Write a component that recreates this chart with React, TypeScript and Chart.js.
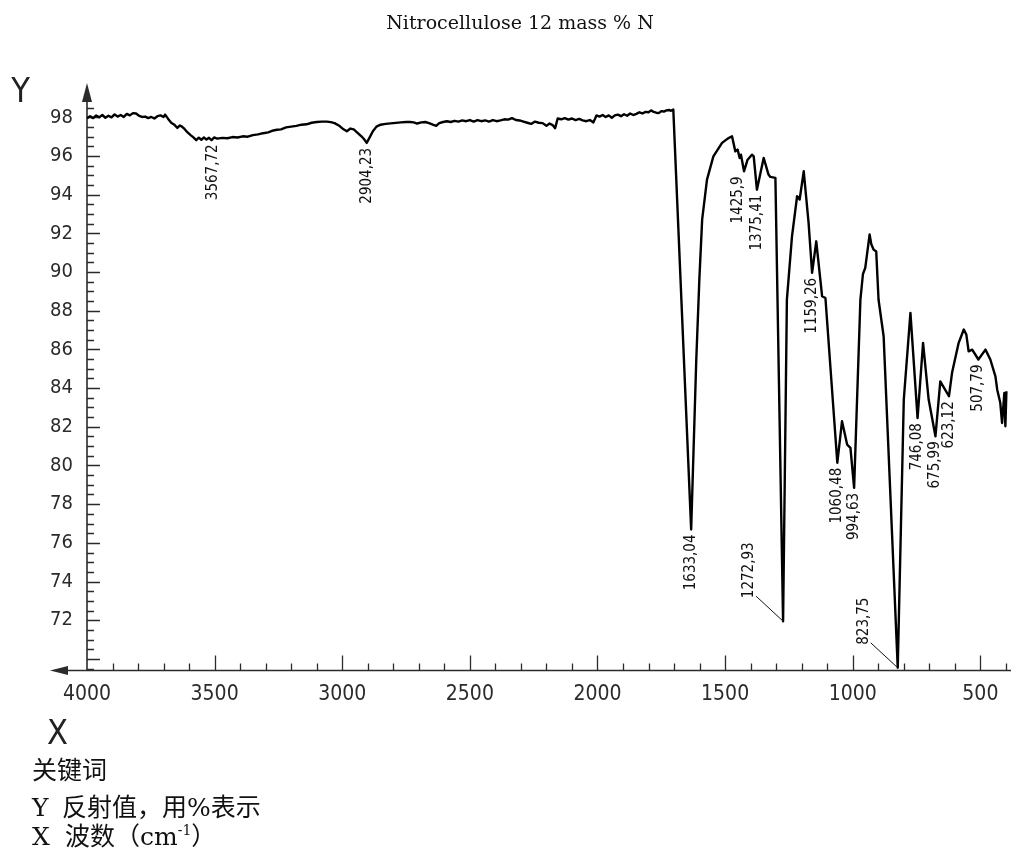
import React, { useEffect, useRef } from "react";
import { Chart, registerables } from "chart.js";

Chart.register(...registerables);

// ---------------- data ----------------
const TITLE = "Nitrocellulose 12 mass % N";
const AXIS_Y_NAME = "Y";
const AXIS_X_NAME = "X";
const KEY_TITLE = "关键词";
const KEY_Y = ["Y", "反射值，用%表示"];
const KEY_X = ["X", "波数（cm", "-1", "）"];

// wavenumber (cm-1), descending
const wavenumbers: number[] = [
  4000, 3988, 3976, 3964, 3952, 3940, 3928, 3916, 3904, 3892, 3880, 3868, 3856, 3844, 3832, 3820,
  3808, 3796, 3784, 3772, 3760, 3748, 3736, 3724, 3712, 3700, 3694, 3682, 3670, 3658, 3646, 3636,
  3628, 3618, 3606, 3594, 3582, 3572, 3562, 3552, 3542, 3532, 3522, 3512, 3502, 3490, 3470, 3450,
  3430, 3410, 3390, 3370, 3350, 3330, 3310, 3290, 3270, 3256, 3240, 3220, 3200, 3180, 3160, 3140,
  3120, 3100, 3080, 3060, 3045, 3030, 3010, 2995, 2982, 2968, 2955, 2940, 2925, 2915, 2904.23, 2892,
  2880, 2866, 2850, 2830, 2800, 2770, 2750, 2734, 2720, 2707, 2690, 2675, 2660, 2645, 2632, 2620,
  2605, 2590, 2575, 2560, 2545, 2530, 2515, 2500, 2485, 2470, 2455, 2440, 2425, 2410, 2395, 2380,
  2365, 2350, 2335, 2320, 2305, 2290, 2275, 2260, 2245, 2230, 2215, 2200, 2188, 2176, 2166, 2156,
  2142, 2128, 2114, 2100, 2086, 2072, 2058, 2044, 2030, 2016, 2004, 1992, 1980, 1968, 1956, 1944,
  1932, 1920, 1908, 1896, 1884, 1872, 1860, 1848, 1836, 1824, 1812, 1800, 1790, 1780, 1770, 1760,
  1750, 1740, 1730, 1720, 1712, 1703,
  1633.04, 1613, 1601, 1590, 1571, 1546, 1512, 1490, 1473, 1460, 1451, 1443, 1438, 1425.9, 1412, 1395,
  1388, 1375.41, 1349, 1330, 1323, 1303, 1272.93, 1258, 1238, 1218, 1208, 1192, 1173, 1159.26, 1143, 1120,
  1107, 1060.48, 1042, 1022, 1009, 994.63, 970, 960, 951, 934, 927, 918, 908, 899, 879, 823.75,
  800, 774, 746.08, 724.5, 702.6, 675.99, 657, 623.12, 611, 585, 565, 555, 546, 532, 507.79, 480,
  461, 441, 434, 422, 415, 406, 402, 398,
];

// reflectance (%)
const reflectance: number[] = [
  97.95, 98.06, 97.96, 98.1, 98.0, 98.12, 97.98, 98.08, 98.0, 98.15, 98.04, 98.12, 98.02, 98.18, 98.1, 98.22,
  98.2, 98.08, 98.02, 98.04, 97.96, 98.02, 97.94, 98.06, 98.1, 98.02, 98.14, 97.92, 97.72, 97.62, 97.45, 97.58,
  97.52, 97.4, 97.22, 97.08, 96.95, 96.82, 96.95, 96.84, 96.96, 96.85, 96.94, 96.82, 96.96, 96.9, 96.94, 96.92,
  96.98, 96.96, 97.02, 97.0, 97.08, 97.12, 97.18, 97.22, 97.32, 97.36, 97.38, 97.48, 97.52, 97.56, 97.62, 97.64,
  97.72, 97.76, 97.78, 97.78, 97.75, 97.7, 97.55, 97.38, 97.28, 97.42, 97.38, 97.2, 97.02, 96.88, 96.68, 96.98,
  97.28, 97.52, 97.62, 97.66, 97.7, 97.74, 97.76, 97.76, 97.74, 97.68, 97.74, 97.76, 97.7, 97.62, 97.56, 97.7,
  97.76, 97.8, 97.76, 97.82, 97.78, 97.84, 97.8, 97.86, 97.78, 97.86, 97.8, 97.84, 97.78, 97.86, 97.8, 97.84,
  97.9, 97.88, 97.96, 97.86, 97.84, 97.78, 97.72, 97.66, 97.78, 97.72, 97.7, 97.56, 97.68, 97.6, 97.44, 97.94,
  97.9, 97.96, 97.88, 97.94, 97.86, 97.92, 97.84, 97.8, 97.86, 97.74, 98.1, 98.04, 98.12, 98.02, 98.1, 97.98,
  98.1, 98.14, 98.06, 98.16, 98.08, 98.2, 98.12, 98.18, 98.26, 98.2, 98.28, 98.26, 98.36, 98.28, 98.24, 98.22,
  98.32, 98.3, 98.36, 98.38, 98.34, 98.4,
  76.69, 85.48, 89.61, 92.71, 94.78, 95.98, 96.68, 96.9, 97.02, 96.24, 96.33, 95.9, 96.07, 95.21, 95.81, 96.07,
  95.98, 94.26, 95.9, 95.04, 94.92, 94.87, 71.95, 88.58, 91.85, 93.92, 93.75, 95.21, 92.54, 89.96, 91.59, 88.75,
  88.66, 80.14, 82.29, 81.08, 80.91, 78.84, 88.58, 89.9, 90.22, 91.94, 91.42, 91.16, 91.06, 88.58, 86.68, 69.54,
  83.41, 87.89, 82.45, 86.34, 83.41, 81.51, 84.35, 83.58, 84.79, 86.34, 87.03, 86.77, 85.9, 85.99, 85.48, 85.99,
  85.48, 84.61, 83.92, 83.24, 82.2, 83.75, 82.03, 83.84,
];

// peak annotations
const peakLabels = [
  "3567,72", "2904,23", "1633,04", "1425,9", "1375,41", "1272,93", "1159,26",
  "1060,48", "994,63", "823,75", "746,08", "675,99", "623,12", "507,79",
];
const peakPositions = [3507, 2904.23, 1633.04, 1425.9, 1375.41, 1272.93, 1159.26, 1060.48, 994.63, 823.75, 746.08, 675.99, 623.12, 507.79];
const peakValues = [96.86, 96.68, 76.69, 95.21, 94.26, 71.95, 89.96, 80.14, 78.84, 69.54, 82.45, 81.51, 83.58, 85.48];
const leaderPeaks = ["1272,93", "823,75"];

const xTickLabels = [4000, 3500, 3000, 2500, 2000, 1500, 1000, 500];
const yTickLabels = [72, 74, 76, 78, 80, 82, 84, 86, 88, 90, 92, 94, 96, 98];

// ---------------- styles ----------------
const COND = '"DejaVu Sans Condensed", "DejaVu Sans", sans-serif';
const AXIS_COLOR = "#2b2b2b";
const LEGEND_FONT = '"DejaVu Serif", "Noto Sans CJK SC", serif';
// horizontal nudges (px) for crowded peak labels
const LABEL_NUDGE: Record<string, number> = { "1425,9": -6 };

const isoAxesPlugin = {
  id: "isoAxes",
  beforeDatasetsDraw(chart: any) {
    const { ctx, chartArea: a, scales } = chart;
    const xs = scales.x;
    const ys = scales.y;
    ctx.save();
    ctx.strokeStyle = AXIS_COLOR;
    ctx.fillStyle = AXIS_COLOR;
    ctx.lineWidth = 1.6;
    ctx.beginPath();
    ctx.moveTo(a.left, a.bottom);
    ctx.lineTo(a.left, 100);
    ctx.moveTo(66, a.bottom);
    ctx.lineTo(a.right, a.bottom);
    ctx.stroke();
    // arrow heads
    ctx.beginPath();
    ctx.moveTo(a.left, 83);
    ctx.lineTo(a.left - 5, 102);
    ctx.lineTo(a.left + 5, 102);
    ctx.closePath();
    ctx.fill();
    ctx.beginPath();
    ctx.moveTo(50, a.bottom);
    ctx.lineTo(68, a.bottom - 4.5);
    ctx.lineTo(68, a.bottom + 4.5);
    ctx.closePath();
    ctx.fill();
    // tick marks (inside)
    ctx.lineWidth = 1.3;
    ctx.beginPath();
    for (let v = 400; v < 4000; v += 100) {
      const px = Math.round(xs.getPixelForValue(v)) + 0.5;
      const len = v % 500 === 0 ? 15 : 7;
      ctx.moveTo(px, a.bottom);
      ctx.lineTo(px, a.bottom - len);
    }
    for (let i = 139; i <= 197; i++) {
      const py = Math.round(ys.getPixelForValue(i / 2)) + 0.5;
      const len = i % 4 === 0 ? 13 : 7;
      ctx.moveTo(a.left, py);
      ctx.lineTo(a.left + len, py);
    }
    ctx.stroke();
    ctx.restore();
  },
  afterDatasetsDraw(chart: any) {
    const { ctx, scales } = chart;
    const xs = scales.x;
    const ys = scales.y;
    ctx.save();
    // title
    ctx.fillStyle = "#111";
    ctx.font = '19px "DejaVu Serif", serif';
    ctx.textAlign = "center";
    ctx.textBaseline = "alphabetic";
    ctx.fillText(TITLE, 520, 29);
    // axis names
    ctx.fillStyle = "#222";
    ctx.font = "200 34px " + COND;
    ctx.textBaseline = "middle";
    ctx.fillText(AXIS_Y_NAME, 20.5, 93);
    ctx.fillText(AXIS_X_NAME, 57.5, 735);
    // peak labels
    ctx.font = "15px " + COND;
    ctx.fillStyle = "#111";
    ctx.strokeStyle = "#111";
    ctx.lineWidth = 1;
    peakLabels.forEach((label, i) => {
      const px = xs.getPixelForValue(peakPositions[i]);
      const py = ys.getPixelForValue(peakValues[i]);
      if (leaderPeaks.includes(label)) {
        const lx = px - 34;
        const bottom = py - 23;
        ctx.save();
        ctx.translate(lx, bottom);
        ctx.rotate(-Math.PI / 2);
        ctx.textAlign = "left";
        ctx.textBaseline = "middle";
        ctx.fillText(label, 0, 0);
        ctx.restore();
        ctx.beginPath();
        ctx.moveTo(lx + 7, bottom - 2);
        ctx.lineTo(px, py);
        ctx.stroke();
      } else {
        ctx.save();
        ctx.translate(px + (LABEL_NUDGE[label] || 0), py + 5);
        ctx.rotate(-Math.PI / 2);
        ctx.textAlign = "right";
        ctx.textBaseline = "middle";
        ctx.fillText(label, 0, 0);
        ctx.restore();
      }
    });
    ctx.restore();
  },
};

export default function App() {
  const canvasRef = useRef<HTMLCanvasElement | null>(null);

  useEffect(() => {
    const canvas = canvasRef.current;
    if (!canvas) return;
    const points = wavenumbers.map((w, i) => ({ x: w, y: reflectance[i] }));
    const chart = new Chart(canvas, {
      type: "line",
      data: {
        datasets: [
          {
            data: points,
            borderColor: "#000",
            borderWidth: 2.4,
            pointRadius: 0,
            tension: 0,
            fill: false,
            borderJoinStyle: "round",
          },
        ],
      },
      options: {
        animation: false,
        responsive: false,
        maintainAspectRatio: false,
        layout: { padding: { top: 98, right: 9, bottom: 137.5, left: 0 } },
        plugins: {
          legend: { display: false },
          tooltip: { enabled: false },
          title: { display: false },
        },
        scales: {
          x: {
            type: "linear",
            reverse: true,
            min: 380,
            max: 4000,
            grid: { display: false, drawTicks: false },
            border: { display: false },
            afterBuildTicks: (scale: any) => {
              scale.ticks = xTickLabels.map((v) => ({ value: v }));
            },
            afterFit: (scale: any) => {
              scale.height = 40;
            },
            ticks: {
              autoSkip: false,
              maxRotation: 0,
              padding: 11,
              color: "#2b2b2b",
              font: { family: COND, size: 21 },
              callback: (v: any) => String(v),
            },
          },
          y: {
            type: "linear",
            min: 69.4,
            max: 99,
            grid: { display: false, drawTicks: false },
            border: { display: false },
            afterBuildTicks: (scale: any) => {
              scale.ticks = yTickLabels.map((v) => ({ value: v }));
            },
            afterFit: (scale: any) => {
              scale.width = 87;
            },
            ticks: {
              autoSkip: false,
              padding: 14,
              color: "#2b2b2b",
              font: { family: COND, size: 20 },
              callback: (v: any) => String(v),
            },
          },
        },
      },
      plugins: [isoAxesPlugin],
    } as any);
    return () => chart.destroy();
  }, []);

  const lineStyle: React.CSSProperties = {
    position: "absolute",
    left: 32,
    font: `25px ${LEGEND_FONT}`,
    lineHeight: "25px",
    whiteSpace: "nowrap",
    color: "#111",
  };

  return (
    <div style={{ position: "absolute", left: 0, top: 0, width: 1020, height: 848, overflow: "hidden", background: "#fff" }}>
      <canvas ref={canvasRef} width={1020} height={848} style={{ display: "block" }} />
      <div style={{ ...lineStyle, top: 758 }}>{KEY_TITLE}</div>
      <div style={{ ...lineStyle, top: 795 }}>
        <span style={{ display: "inline-block", width: 30 }}>{KEY_Y[0]}</span>
        {KEY_Y[1]}
      </div>
      <div style={{ ...lineStyle, top: 824 }}>
        <span style={{ display: "inline-block", width: 33 }}>{KEY_X[0]}</span>
        {KEY_X[1]}
        <sup style={{ fontSize: 14, lineHeight: 0, verticalAlign: 10 }}>{KEY_X[2]}</sup>
        {KEY_X[3]}
      </div>
    </div>
  );
}
